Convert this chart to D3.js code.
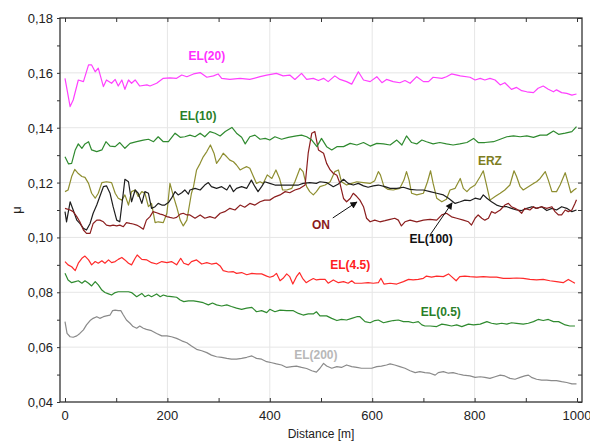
<!DOCTYPE html>
<html>
<head>
<meta charset="utf-8">
<script src="https://cdnjs.cloudflare.com/ajax/libs/d3/7.8.5/d3.min.js"></script>
<style>
    body { margin: 0; background: #fff; }
    svg text { font-family: "Liberation Sans", Arial, sans-serif; }
    .tick-label { font-size: 13px; fill: #222; }
    .series-label { font-size: 12px; font-weight: bold; }
</style>
</head>
<body>
<svg class="svg-canvas" width="590" height="441"></svg>
<script>
/**
 * Readings as [distance (m), mu] pairs, one array per test
 */
var el20 = [[0,0.1580],[10,0.1477],[16,0.1501],[26,0.1574],[36,0.1568],[46,0.1629],[52,0.1629],[59,0.1604],[65,0.1617],[75,0.1550],[81,0.1574],[91,0.1562],[98,0.1576],[104,0.1552],[111,0.1574],[117,0.1540],[124,0.1574],[130,0.1562],[137,0.1574],[146,0.1552],[160,0.1556],[166,0.1552],[179,0.1562],[192,0.1580],[205,0.1582],[218,0.1580],[228,0.1592],[238,0.1586],[251,0.1596],[264,0.1601],[277,0.1584],[290,0.1589],[299,0.1596],[306,0.1580],[322,0.1576],[342,0.1580],[361,0.1576],[381,0.1586],[394,0.1592],[413,0.1598],[426,0.1589],[439,0.1592],[449,0.1576],[462,0.1598],[472,0.1576],[485,0.1580],[495,0.1572],[505,0.1580],[514,0.1568],[527,0.1589],[537,0.1576],[550,0.1568],[560,0.1559],[573,0.1604],[583,0.1574],[596,0.1568],[609,0.1586],[619,0.1564],[628,0.1576],[641,0.1568],[654,0.1564],[664,0.1572],[674,0.1562],[687,0.1586],[700,0.1568],[710,0.1568],[719,0.1584],[736,0.1580],[745,0.1586],[755,0.1596],[772,0.1589],[791,0.1584],[801,0.1574],[811,0.1580],[820,0.1574],[830,0.1580],[840,0.1574],[850,0.1556],[859,0.1564],[872,0.1540],[882,0.1547],[892,0.1535],[902,0.1531],[915,0.1528],[924,0.1544],[934,0.1552],[944,0.1540],[954,0.1531],[960,0.1538],[970,0.1528],[980,0.1525],[990,0.1519],[999,0.1523]];

var el10 = [[0,0.1294],[7,0.1268],[13,0.1270],[20,0.1319],[26,0.1341],[33,0.1325],[39,0.1341],[46,0.1349],[52,0.1319],[62,0.1313],[72,0.1319],[80,0.1349],[88,0.1333],[98,0.1331],[107,0.1346],[117,0.1325],[127,0.1343],[140,0.1349],[153,0.1355],[163,0.1358],[173,0.1349],[182,0.1367],[192,0.1349],[202,0.1349],[215,0.1380],[225,0.1365],[234,0.1367],[244,0.1373],[254,0.1367],[264,0.1380],[273,0.1367],[283,0.1386],[293,0.1380],[303,0.1370],[313,0.1386],[326,0.1401],[335,0.1380],[345,0.1365],[352,0.1341],[361,0.1367],[371,0.1373],[381,0.1358],[391,0.1361],[400,0.1355],[410,0.1367],[423,0.1358],[436,0.1365],[452,0.1370],[462,0.1373],[472,0.1367],[482,0.1355],[492,0.1331],[501,0.1361],[511,0.1331],[521,0.1319],[531,0.1331],[544,0.1331],[557,0.1343],[570,0.1337],[583,0.1346],[596,0.1333],[609,0.1343],[622,0.1341],[635,0.1337],[648,0.1355],[658,0.1337],[667,0.1370],[677,0.1346],[687,0.1341],[697,0.1355],[706,0.1349],[719,0.1341],[732,0.1346],[745,0.1341],[758,0.1337],[771,0.1341],[785,0.1346],[798,0.1361],[807,0.1346],[820,0.1346],[837,0.1349],[850,0.1358],[863,0.1367],[876,0.1370],[889,0.1367],[902,0.1370],[915,0.1365],[928,0.1373],[941,0.1373],[954,0.1388],[964,0.1376],[977,0.1380],[990,0.1386],[999,0.1404]];

var erz = [[0,0.1167],[6,0.1173],[13,0.1222],[19,0.1248],[26,0.1233],[33,0.1222],[39,0.1219],[46,0.1197],[52,0.1161],[59,0.1143],[65,0.1161],[72,0.1200],[81,0.1203],[91,0.1200],[98,0.1161],[104,0.1143],[111,0.1136],[117,0.1155],[124,0.1118],[130,0.1167],[137,0.1173],[143,0.1149],[150,0.1167],[156,0.1161],[163,0.1112],[169,0.1124],[176,0.1054],[182,0.1057],[192,0.1054],[199,0.1088],[205,0.1197],[212,0.1149],[218,0.1112],[225,0.1063],[231,0.1042],[238,0.1063],[247,0.1161],[251,0.1185],[257,0.1246],[264,0.1270],[270,0.1294],[277,0.1313],[284,0.1337],[291,0.1307],[296,0.1270],[303,0.1288],[309,0.1307],[316,0.1294],[322,0.1282],[329,0.1276],[335,0.1264],[342,0.1246],[348,0.1252],[355,0.1258],[361,0.1252],[368,0.1222],[374,0.1197],[381,0.1203],[387,0.1197],[395,0.1228],[404,0.1215],[412,0.1246],[419,0.1215],[425,0.1173],[433,0.1173],[443,0.1179],[449,0.1203],[459,0.1252],[465,0.1240],[472,0.1185],[478,0.1167],[485,0.1155],[491,0.1167],[498,0.1185],[508,0.1191],[518,0.1203],[527,0.1240],[534,0.1246],[540,0.1203],[550,0.1191],[560,0.1197],[570,0.1203],[583,0.1200],[596,0.1197],[605,0.1207],[612,0.1240],[616,0.1228],[623,0.1185],[631,0.1175],[641,0.1173],[654,0.1179],[662,0.1209],[667,0.1240],[672,0.1209],[677,0.1161],[687,0.1155],[700,0.1161],[708,0.1203],[714,0.1243],[719,0.1197],[726,0.1143],[736,0.1130],[745,0.1139],[752,0.1173],[762,0.1179],[772,0.1215],[778,0.1179],[785,0.1167],[791,0.1179],[801,0.1191],[811,0.1222],[817,0.1243],[824,0.1185],[830,0.1136],[840,0.1149],[850,0.1161],[859,0.1173],[869,0.1191],[877,0.1243],[882,0.1222],[889,0.1185],[895,0.1173],[905,0.1185],[915,0.1197],[921,0.1203],[928,0.1215],[938,0.1240],[944,0.1209],[951,0.1167],[960,0.1167],[967,0.1191],[977,0.1236],[983,0.1197],[988,0.1163],[994,0.1173],[999,0.1179]];

var el100 = [[0,0.1094],[3,0.1057],[10,0.1130],[16,0.1100],[23,0.1063],[29,0.1051],[36,0.1033],[42,0.1027],[49,0.1051],[55,0.1088],[62,0.1118],[68,0.1149],[75,0.1185],[81,0.1188],[88,0.1161],[94,0.1112],[101,0.1063],[107,0.1057],[113,0.1149],[117,0.1212],[124,0.1203],[130,0.1130],[137,0.1173],[143,0.1161],[150,0.1124],[156,0.1167],[163,0.1161],[169,0.1106],[176,0.1112],[182,0.1124],[189,0.1118],[195,0.1118],[202,0.1127],[208,0.1143],[215,0.1167],[221,0.1155],[228,0.1163],[234,0.1173],[241,0.1158],[244,0.1173],[254,0.1179],[264,0.1173],[273,0.1191],[280,0.1200],[286,0.1185],[296,0.1179],[306,0.1185],[316,0.1173],[322,0.1191],[329,0.1167],[335,0.1179],[345,0.1185],[355,0.1179],[364,0.1209],[371,0.1185],[377,0.1167],[384,0.1185],[390,0.1203],[400,0.1197],[410,0.1191],[420,0.1191],[433,0.1191],[446,0.1191],[456,0.1191],[465,0.1197],[478,0.1200],[491,0.1197],[498,0.1203],[511,0.1200],[524,0.1185],[534,0.1195],[544,0.1212],[553,0.1197],[563,0.1191],[573,0.1197],[583,0.1188],[592,0.1183],[602,0.1188],[612,0.1191],[625,0.1185],[635,0.1179],[648,0.1179],[661,0.1183],[674,0.1175],[687,0.1173],[700,0.1173],[713,0.1167],[726,0.1161],[739,0.1155],[749,0.1143],[762,0.1124],[772,0.1130],[781,0.1136],[791,0.1134],[801,0.1143],[811,0.1139],[817,0.1155],[824,0.1143],[833,0.1130],[843,0.1118],[853,0.1112],[863,0.1112],[872,0.1106],[882,0.1100],[892,0.1098],[902,0.1106],[912,0.1112],[921,0.1106],[931,0.1112],[941,0.1098],[951,0.1106],[960,0.1100],[970,0.1112],[980,0.1106],[990,0.1094],[999,0.1100]];

var on = [[0,0.1106],[10,0.1100],[16,0.1094],[23,0.1076],[29,0.1057],[36,0.1027],[42,0.1015],[49,0.1015],[55,0.1051],[62,0.1063],[68,0.1063],[75,0.1057],[81,0.1045],[88,0.1042],[94,0.1045],[101,0.1042],[107,0.1045],[114,0.1039],[120,0.1054],[127,0.1051],[133,0.1049],[140,0.1045],[146,0.1039],[153,0.1030],[159,0.1063],[166,0.1076],[172,0.1094],[179,0.1090],[186,0.1085],[192,0.1082],[199,0.1076],[205,0.1073],[212,0.1070],[218,0.1073],[225,0.1085],[231,0.1088],[238,0.1082],[244,0.1082],[254,0.1070],[264,0.1082],[273,0.1070],[283,0.1076],[293,0.1070],[303,0.1088],[312,0.1094],[322,0.1106],[332,0.1100],[342,0.1118],[351,0.1110],[361,0.1124],[371,0.1118],[381,0.1130],[390,0.1136],[400,0.1136],[410,0.1148],[420,0.1155],[430,0.1167],[439,0.1163],[449,0.1173],[459,0.1179],[469,0.1191],[475,0.1307],[482,0.1380],[488,0.1386],[495,0.1319],[505,0.1307],[511,0.1270],[518,0.1246],[524,0.1234],[531,0.1227],[537,0.1197],[544,0.1142],[550,0.1130],[557,0.1142],[563,0.1161],[570,0.1149],[576,0.1136],[583,0.1112],[589,0.1070],[596,0.1057],[605,0.1063],[615,0.1057],[625,0.1061],[635,0.1066],[644,0.1070],[651,0.1063],[657,0.1042],[664,0.1057],[674,0.1063],[687,0.1057],[700,0.1063],[713,0.1066],[726,0.1063],[736,0.1082],[745,0.1088],[755,0.1075],[765,0.1070],[778,0.1063],[788,0.1057],[794,0.1045],[801,0.1070],[807,0.1082],[814,0.1070],[820,0.1063],[827,0.1070],[833,0.1094],[840,0.1088],[850,0.1100],[859,0.1118],[866,0.1124],[872,0.1112],[879,0.1106],[885,0.1100],[892,0.1088],[898,0.1106],[908,0.1100],[915,0.1112],[921,0.1106],[931,0.1112],[941,0.1106],[951,0.1112],[957,0.1094],[964,0.1082],[970,0.1082],[977,0.1100],[983,0.1094],[990,0.1100],[996,0.1124],[999,0.1137]];

var el45 = [[0,0.0912],[6,0.0900],[13,0.0893],[20,0.0879],[26,0.0906],[33,0.0924],[39,0.0932],[46,0.0918],[52,0.0900],[59,0.0912],[65,0.0906],[72,0.0915],[78,0.0906],[85,0.0918],[91,0.0908],[98,0.0912],[104,0.0920],[111,0.0927],[117,0.0918],[124,0.0906],[130,0.0900],[137,0.0924],[141,0.0936],[150,0.0920],[160,0.0918],[169,0.0908],[179,0.0903],[189,0.0912],[199,0.0908],[208,0.0912],[218,0.0900],[226,0.0924],[232,0.0906],[241,0.0900],[247,0.0912],[257,0.0918],[267,0.0903],[277,0.0908],[286,0.0903],[296,0.0906],[303,0.0896],[309,0.0879],[319,0.0874],[329,0.0875],[335,0.0869],[345,0.0872],[355,0.0864],[365,0.0869],[374,0.0867],[384,0.0867],[394,0.0859],[400,0.0855],[407,0.0859],[413,0.0869],[420,0.0842],[426,0.0851],[433,0.0867],[439,0.0857],[445,0.0830],[452,0.0857],[458,0.0872],[464,0.0851],[471,0.0835],[477,0.0842],[485,0.0850],[491,0.0845],[498,0.0847],[508,0.0847],[514,0.0833],[524,0.0845],[534,0.0835],[544,0.0839],[553,0.0833],[560,0.0842],[566,0.0833],[579,0.0833],[592,0.0835],[602,0.0833],[612,0.0835],[617,0.0851],[623,0.0830],[635,0.0833],[648,0.0830],[661,0.0839],[671,0.0847],[680,0.0845],[690,0.0847],[700,0.0851],[706,0.0859],[716,0.0855],[726,0.0859],[739,0.0857],[749,0.0867],[755,0.0857],[764,0.0842],[771,0.0857],[781,0.0859],[791,0.0857],[804,0.0855],[817,0.0857],[830,0.0855],[843,0.0855],[856,0.0851],[869,0.0851],[882,0.0852],[895,0.0851],[908,0.0847],[921,0.0845],[934,0.0847],[947,0.0842],[960,0.0839],[973,0.0835],[983,0.0847],[990,0.0839],[996,0.0833]];

var el05 = [[0,0.0869],[6,0.0845],[13,0.0835],[20,0.0839],[26,0.0842],[33,0.0833],[39,0.0842],[46,0.0833],[52,0.0823],[59,0.0839],[65,0.0827],[72,0.0808],[78,0.0799],[85,0.0794],[91,0.0790],[98,0.0799],[104,0.0802],[114,0.0802],[124,0.0802],[130,0.0799],[140,0.0784],[150,0.0796],[156,0.0784],[163,0.0790],[169,0.0784],[179,0.0794],[186,0.0784],[192,0.0790],[199,0.0786],[208,0.0784],[218,0.0782],[225,0.0772],[232,0.0766],[241,0.0769],[251,0.0769],[260,0.0766],[270,0.0762],[280,0.0754],[288,0.0761],[296,0.0754],[306,0.0750],[316,0.0754],[325,0.0748],[335,0.0742],[345,0.0738],[355,0.0742],[365,0.0745],[374,0.0729],[384,0.0733],[394,0.0726],[400,0.0738],[410,0.0729],[420,0.0735],[433,0.0733],[446,0.0733],[456,0.0723],[465,0.0717],[475,0.0721],[485,0.0721],[491,0.0729],[498,0.0714],[511,0.0714],[521,0.0705],[531,0.0697],[540,0.0701],[550,0.0699],[560,0.0705],[570,0.0711],[576,0.0711],[586,0.0693],[596,0.0689],[605,0.0697],[612,0.0699],[622,0.0689],[631,0.0693],[641,0.0697],[651,0.0699],[661,0.0693],[671,0.0693],[680,0.0689],[690,0.0693],[697,0.0681],[703,0.0677],[713,0.0677],[726,0.0675],[736,0.0684],[745,0.0681],[755,0.0677],[765,0.0681],[775,0.0675],[788,0.0684],[798,0.0681],[811,0.0684],[824,0.0693],[833,0.0687],[843,0.0684],[853,0.0687],[863,0.0684],[872,0.0689],[882,0.0687],[895,0.0684],[905,0.0687],[915,0.0693],[924,0.0701],[934,0.0697],[944,0.0701],[954,0.0693],[964,0.0693],[977,0.0681],[986,0.0677],[996,0.0677]];

var el200 = [[0,0.0693],[4,0.0650],[10,0.0638],[16,0.0636],[23,0.0641],[29,0.0650],[36,0.0663],[42,0.0681],[49,0.0697],[55,0.0705],[62,0.0711],[68,0.0705],[75,0.0711],[81,0.0714],[88,0.0717],[93,0.0733],[98,0.0735],[104,0.0733],[109,0.0733],[114,0.0717],[120,0.0699],[127,0.0687],[133,0.0675],[140,0.0669],[146,0.0677],[153,0.0669],[159,0.0665],[169,0.0660],[179,0.0650],[189,0.0641],[199,0.0641],[208,0.0638],[218,0.0632],[228,0.0623],[238,0.0616],[247,0.0604],[257,0.0592],[267,0.0587],[277,0.0580],[286,0.0571],[296,0.0565],[306,0.0563],[316,0.0559],[325,0.0556],[335,0.0556],[345,0.0559],[355,0.0563],[365,0.0568],[374,0.0559],[384,0.0556],[394,0.0547],[404,0.0543],[413,0.0539],[423,0.0535],[433,0.0526],[443,0.0529],[452,0.0531],[462,0.0526],[472,0.0522],[482,0.0514],[491,0.0509],[498,0.0523],[505,0.0541],[511,0.0531],[521,0.0523],[531,0.0529],[540,0.0526],[550,0.0535],[560,0.0529],[570,0.0526],[579,0.0523],[589,0.0523],[599,0.0523],[609,0.0529],[618,0.0531],[628,0.0535],[635,0.0539],[644,0.0535],[654,0.0529],[664,0.0523],[674,0.0514],[684,0.0507],[693,0.0511],[703,0.0507],[713,0.0505],[723,0.0498],[729,0.0507],[739,0.0511],[749,0.0505],[758,0.0507],[768,0.0502],[778,0.0498],[791,0.0495],[801,0.0490],[811,0.0492],[820,0.0490],[830,0.0486],[840,0.0492],[850,0.0498],[859,0.0495],[869,0.0486],[879,0.0483],[889,0.0490],[898,0.0495],[905,0.0498],[911,0.0490],[921,0.0483],[931,0.0480],[941,0.0480],[950,0.0478],[960,0.0478],[970,0.0474],[980,0.0471],[990,0.0466],[999,0.0466]];

/**
 * Axis ticks
 */
var xMajorTicks = [0, 200, 400, 600, 800, 1000];
var xMinorTicks = [0, 100, 200, 300, 400, 500, 600, 700, 800, 900, 1000];
var yMajorTicks = [0.04, 0.06, 0.08, 0.10, 0.12, 0.14, 0.16, 0.18];
var yMinorTicks = [0.04, 0.05, 0.06, 0.07, 0.08, 0.09, 0.10, 0.11, 0.12, 0.13, 0.14, 0.15, 0.16, 0.17, 0.18];

/**
 * Series names and colours, in drawing order
 */
var seriesNames = ['EL(200)', 'EL(0.5)', 'EL(4.5)', 'ERZ', 'EL(100)', 'ON', 'EL(10)', 'EL(20)'];
var seriesColors = ['#8a8a8a', '#2f8a2f', '#ff2a2a', '#8e8e30', '#1e1e1e', '#8b1e1e', '#2f8a2f', '#ff40ff'];
var seriesData = [el200, el05, el45, erz, el100, on, el10, el20];

/**
 * Label text, colour and anchor point [distance, mu]
 */
var labelTexts = ['EL(20)', 'EL(10)', 'ERZ', 'ON', 'EL(100)', 'EL(4.5)', 'EL(0.5)', 'EL(200)'];
var labelColors = ['#ff30ff', '#2a7f2a', '#7d7d22', '#8b1a1a', '#111111', '#ff2020', '#2a7f2a', '#b8b8b8'];
var labelAnchors = [[277, 0.1647], [260, 0.1428], [830, 0.1264], [500, 0.1031], [715, 0.0980], [557, 0.0885], [734, 0.0714], [490, 0.0557]];

/**
 * Arrows pointing from a label to its curve: [from, to]
 */
var arrows = [[[523, 0.1071], [570, 0.1129]], [[713, 0.1009], [756, 0.1126]]];

(function(){
    var svg = d3.select('.svg-canvas');

    var x = d3.scaleLinear().domain([0, 1000]).range([65, 577]);
    var y = d3.scaleLinear().domain([0.04, 0.18]).range([402, 18]);

    var left = x(0) - 5, right = x(1000) + 5;
    var top = y(0.18), bottom = y(0.04);

    //Grid lines at the labelled ticks
    var grid = svg.append('g').attr('class', 'grid');
    grid.selectAll('line.gx')
        .data(xMajorTicks.slice(1, -1))
        .enter().append('line')
        .attr('x1', function(d){ return x(d); })
        .attr('x2', function(d){ return x(d); })
        .attr('y1', top).attr('y2', bottom)
        .attr('stroke', '#e6e6e6').attr('stroke-width', 1);
    grid.selectAll('line.gy')
        .data(yMajorTicks.slice(1, -1))
        .enter().append('line')
        .attr('y1', function(d){ return y(d); })
        .attr('y2', function(d){ return y(d); })
        .attr('x1', left).attr('x2', right)
        .attr('stroke', '#e6e6e6').attr('stroke-width', 1);

    //The curves
    var line = d3.line()
        .x(function(d){ return x(d[0]); })
        .y(function(d){ return y(d[1]); });

    svg.append('g').attr('class', 'curves')
        .selectAll('path')
        .data(seriesData)
        .enter().append('path')
        .attr('d', line)
        .attr('fill', 'none')
        .attr('stroke', function(d, i){ return seriesColors[i]; })
        .attr('stroke-width', 1.2)
        .attr('stroke-linejoin', 'round');

    //Frame around the plot; ticks point inward except on the left
    var axes = svg.append('g').attr('class', 'axes');
    axes.append('rect')
        .attr('x', left).attr('y', top)
        .attr('width', right - left).attr('height', bottom - top)
        .attr('fill', 'none').attr('stroke', '#333').attr('stroke-width', 1.3);

    axes.append('g')
        .attr('transform', 'translate(0,' + bottom + ')')
        .call(d3.axisBottom(x).tickValues(xMinorTicks).tickSizeInner(-4).tickSizeOuter(0).tickFormat(''));
    axes.append('g')
        .attr('transform', 'translate(0,' + top + ')')
        .call(d3.axisTop(x).tickValues(xMinorTicks).tickSizeInner(-4).tickSizeOuter(0).tickFormat(''));
    axes.append('g')
        .attr('transform', 'translate(' + left + ',0)')
        .call(d3.axisLeft(y).tickValues(yMinorTicks).tickSizeInner(3).tickSizeOuter(0).tickFormat(''));
    axes.append('g')
        .attr('transform', 'translate(' + right + ',0)')
        .call(d3.axisRight(y).tickValues(yMinorTicks).tickSizeInner(-4).tickSizeOuter(0).tickFormat(''));
    axes.selectAll('.domain').remove();
    axes.selectAll('.tick line').attr('stroke', '#333');

    //Tick labels
    var fmt = d3.format('.2f');
    axes.selectAll('text.xl')
        .data(xMajorTicks)
        .enter().append('text')
        .attr('class', 'tick-label')
        .attr('x', function(d){ return x(d); })
        .attr('y', bottom + 18)
        .attr('text-anchor', 'middle')
        .text(function(d){ return d; });
    axes.selectAll('text.yl')
        .data(yMajorTicks)
        .enter().append('text')
        .attr('class', 'tick-label')
        .attr('x', left - 7)
        .attr('y', function(d){ return y(d) + 5; })
        .attr('text-anchor', 'end')
        .text(function(d){ return fmt(d).replace('.', ','); });

    //Axis titles
    svg.append('text')
        .attr('class', 'tick-label')
        .attr('x', 321).attr('y', 438)
        .attr('text-anchor', 'middle')
        .style('font-size', '12px')
        .text('Distance [m]');
    svg.append('text')
        .attr('class', 'tick-label')
        .attr('transform', 'translate(21,' + ((top + bottom) / 2) + ') rotate(-90)')
        .attr('text-anchor', 'middle')
        .text('μ');

    //Arrows
    var defs = svg.append('defs');
    defs.append('marker')
        .attr('id', 'arrowhead')
        .attr('viewBox', '0 0 10 10')
        .attr('refX', 9).attr('refY', 5)
        .attr('markerWidth', 9).attr('markerHeight', 7)
        .attr('markerUnits', 'userSpaceOnUse')
        .attr('orient', 'auto')
        .append('path')
        .attr('d', 'M0,0 L10,5 L0,10 Z')
        .attr('fill', '#111');

    svg.append('g').attr('class', 'arrows')
        .selectAll('line')
        .data(arrows)
        .enter().append('line')
        .attr('x1', function(d){ return x(d[0][0]); })
        .attr('y1', function(d){ return y(d[0][1]); })
        .attr('x2', function(d){ return x(d[1][0]); })
        .attr('y2', function(d){ return y(d[1][1]); })
        .attr('stroke', '#111').attr('stroke-width', 1)
        .attr('marker-end', 'url(#arrowhead)');

    //Series labels
    svg.append('g').attr('class', 'labels')
        .selectAll('text')
        .data(labelTexts)
        .enter().append('text')
        .attr('class', 'series-label')
        .attr('x', function(d, i){ return x(labelAnchors[i][0]); })
        .attr('y', function(d, i){ return y(labelAnchors[i][1]); })
        .attr('text-anchor', 'middle')
        .attr('fill', function(d, i){ return labelColors[i]; })
        .text(function(d){ return d; });
})();
</script>
</body>
</html>
